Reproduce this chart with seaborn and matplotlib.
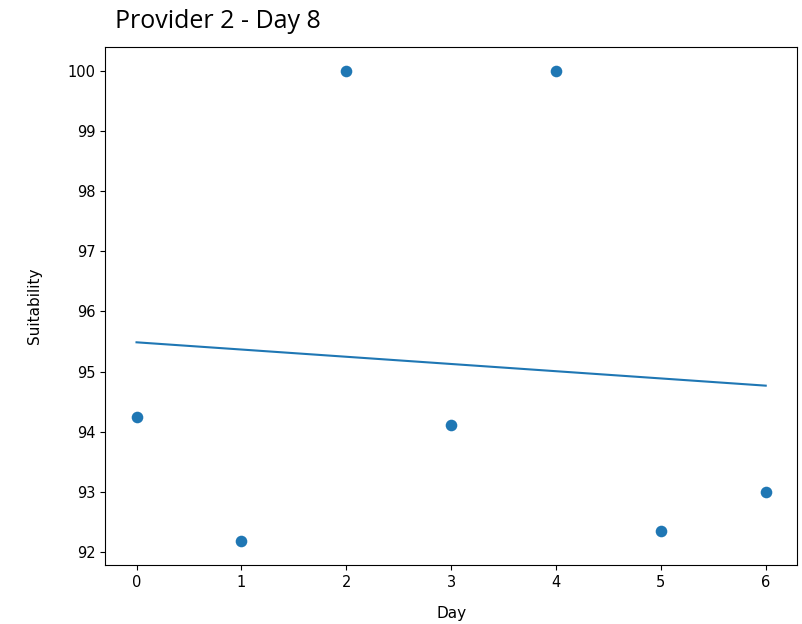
import numpy as np
import pandas as pd
import matplotlib
matplotlib.use('Agg')
import matplotlib.pyplot as plt
import seaborn as sns

# ── data ─────────────────────────────────────────────────────
days = [0, 1, 2, 3, 4, 5, 6]
suitability = [94.24, 92.18, 100.0, 94.11, 100.0, 92.36, 93.0]

df = pd.DataFrame({'Day': days, 'Suitability': suitability})

# ── figure ───────────────────────────────────────────────────
fig = plt.figure(figsize=(8.02, 6.24), dpi=100)
ax = fig.add_axes([0.131, 0.0946, 0.863, 0.830])

sns.regplot(
    data=df, x='Day', y='Suitability', ci=None, ax=ax,
    color='#1f77b4',
    scatter_kws={'s': 70, 'alpha': 1, 'linewidths': 0},
    line_kws={'linewidth': 1.5},
)

ax.set_xticks(days)
ax.set_yticks(range(92, 101))
ax.tick_params(labelsize=10.5)
ax.set_xlabel('Day', fontsize=11, labelpad=12)
ax.set_ylabel('Suitability', fontsize=11, labelpad=18)

fig.text(115 / 802, 1 - 22 / 624, 'Provider 2 - Day 8', fontsize=18,
         family=['Open Sans', 'DejaVu Sans'], ha='left', va='center')

fig.savefig('out.png', dpi=100)
